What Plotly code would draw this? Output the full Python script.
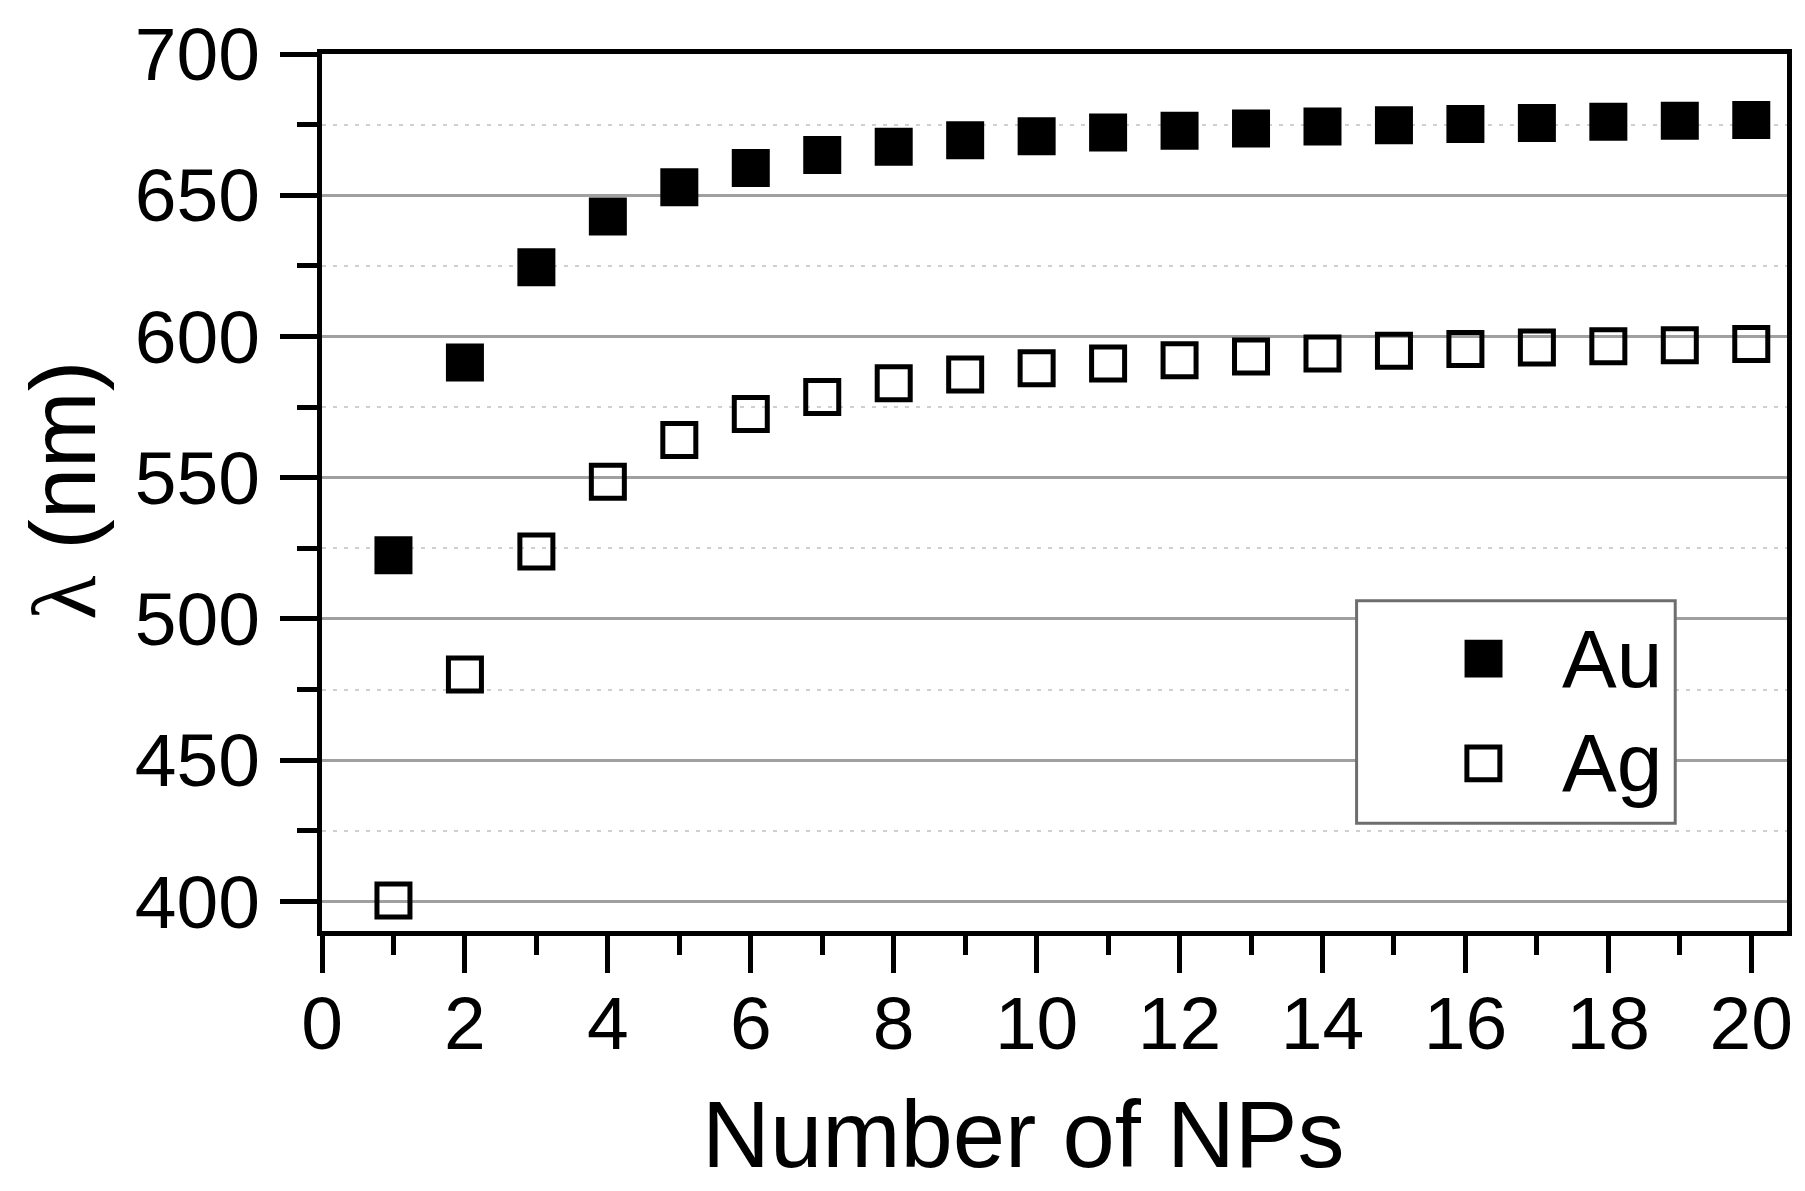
import plotly.graph_objects as go

# values
n_nps = list(range(1, 21))
au_nm = [522.5, 590.8, 624.5, 642.5, 652.8, 659.6, 664.2, 667.2, 669.5, 670.9,
         672.2, 672.8, 673.6, 674.3, 674.8, 675.2, 675.6, 676.0, 676.4, 676.6]
ag_nm = [400.3, 480.3, 523.9, 548.6, 563.3, 572.5, 578.6, 583.4, 586.5, 588.7,
         590.4, 591.6, 592.9, 594.0, 594.9, 595.6, 596.1, 596.5, 596.9, 597.3]
series_names = ['Au', 'Ag']

FONT = 'Liberation Sans, Arial, sans-serif'

fig = go.Figure()

fig.add_trace(go.Scatter(
    x=n_nps, y=au_nm, name=series_names[0], mode='markers',
    marker=dict(symbol='square', size=38, color='black', line=dict(width=0)),
    showlegend=False
))
fig.add_trace(go.Scatter(
    x=n_nps, y=ag_nm, name=series_names[1], mode='markers',
    marker=dict(symbol='square-open', size=33, color='black', line=dict(width=5)),
    showlegend=False
))

fig.update_layout(
    width=1805,
    height=1191,
    margin=dict(l=322, r=16, t=52, b=260),
    paper_bgcolor='white',
    plot_bgcolor='white',
    font=dict(family=FONT, color='black'),
)

fig.update_xaxes(
    range=[0, 20.5],
    tickmode='linear', tick0=0, dtick=2,
    ticks='outside', ticklen=37, tickwidth=5, tickcolor='black',
    ticklabelstandoff=-14,
    tickfont=dict(size=75),
    showline=True, linewidth=5, linecolor='black', mirror=True,
    showgrid=False, zeroline=False,
    minor=dict(dtick=1, ticks='outside', ticklen=19, tickwidth=5, tickcolor='black', showgrid=False),
)

fig.update_yaxes(
    range=[389.5, 700],
    tickmode='linear', tick0=400, dtick=50,
    ticks='outside', ticklen=37, tickwidth=5, tickcolor='black',
    ticklabelstandoff=5,
    tickfont=dict(size=75),
    showline=True, linewidth=5, linecolor='black', mirror=True,
    showgrid=True, gridcolor='#a0a0a0', gridwidth=3, zeroline=False,
    minor=dict(dtick=25, ticks='outside', ticklen=20, tickwidth=5, tickcolor='black',
               showgrid=True, gridcolor='#cfcfcf', gridwidth=2, griddash='4px,7px'),
)

# axis titles
fig.add_annotation(
    text='Number of NPs', xref='paper', yref='paper', x=0.4785, y=-0.2315,
    xanchor='center', yanchor='middle', showarrow=False, font=dict(size=94)
)
fig.add_annotation(
    text="<span style='font-family:Liberation Serif, serif'>λ</span> (nm)",
    xref='paper', yref='paper', x=-0.176, y=0.502, textangle=-90,
    xanchor='center', yanchor='middle', showarrow=False, font=dict(size=92)
)

# legend box drawn by hand so the swatches keep the marker size
fig.add_shape(type='rect', xref='paper', yref='paper', x0=0.7062, x1=0.9237, y0=0.1229, y1=0.3766,
              line=dict(color='#6e6e6e', width=3), fillcolor='white', layer='above')
fig.add_shape(type='rect', xref='paper', yref='paper', x0=0.7799, x1=0.8058, y0=0.2890, y1=0.3322,
              line=dict(width=0), fillcolor='black', layer='above')
fig.add_shape(type='rect', xref='paper', yref='paper', x0=0.7815, x1=0.8040, y0=0.1724, y1=0.2099,
              line=dict(color='black', width=5), fillcolor='white', layer='above')
fig.add_annotation(
    text=series_names[0], xref='paper', yref='paper', x=0.8453, y=0.311,
    xanchor='left', yanchor='middle', showarrow=False, font=dict(size=82)
)
fig.add_annotation(
    text=series_names[1], xref='paper', yref='paper', x=0.8453, y=0.1923,
    xanchor='left', yanchor='middle', showarrow=False, font=dict(size=82)
)

# drop the default 8px body margin so the figure fills the window exactly
fig.write_html("out.html", config={'displayModeBar': False},
               post_script="document.body.style.margin='0';")
